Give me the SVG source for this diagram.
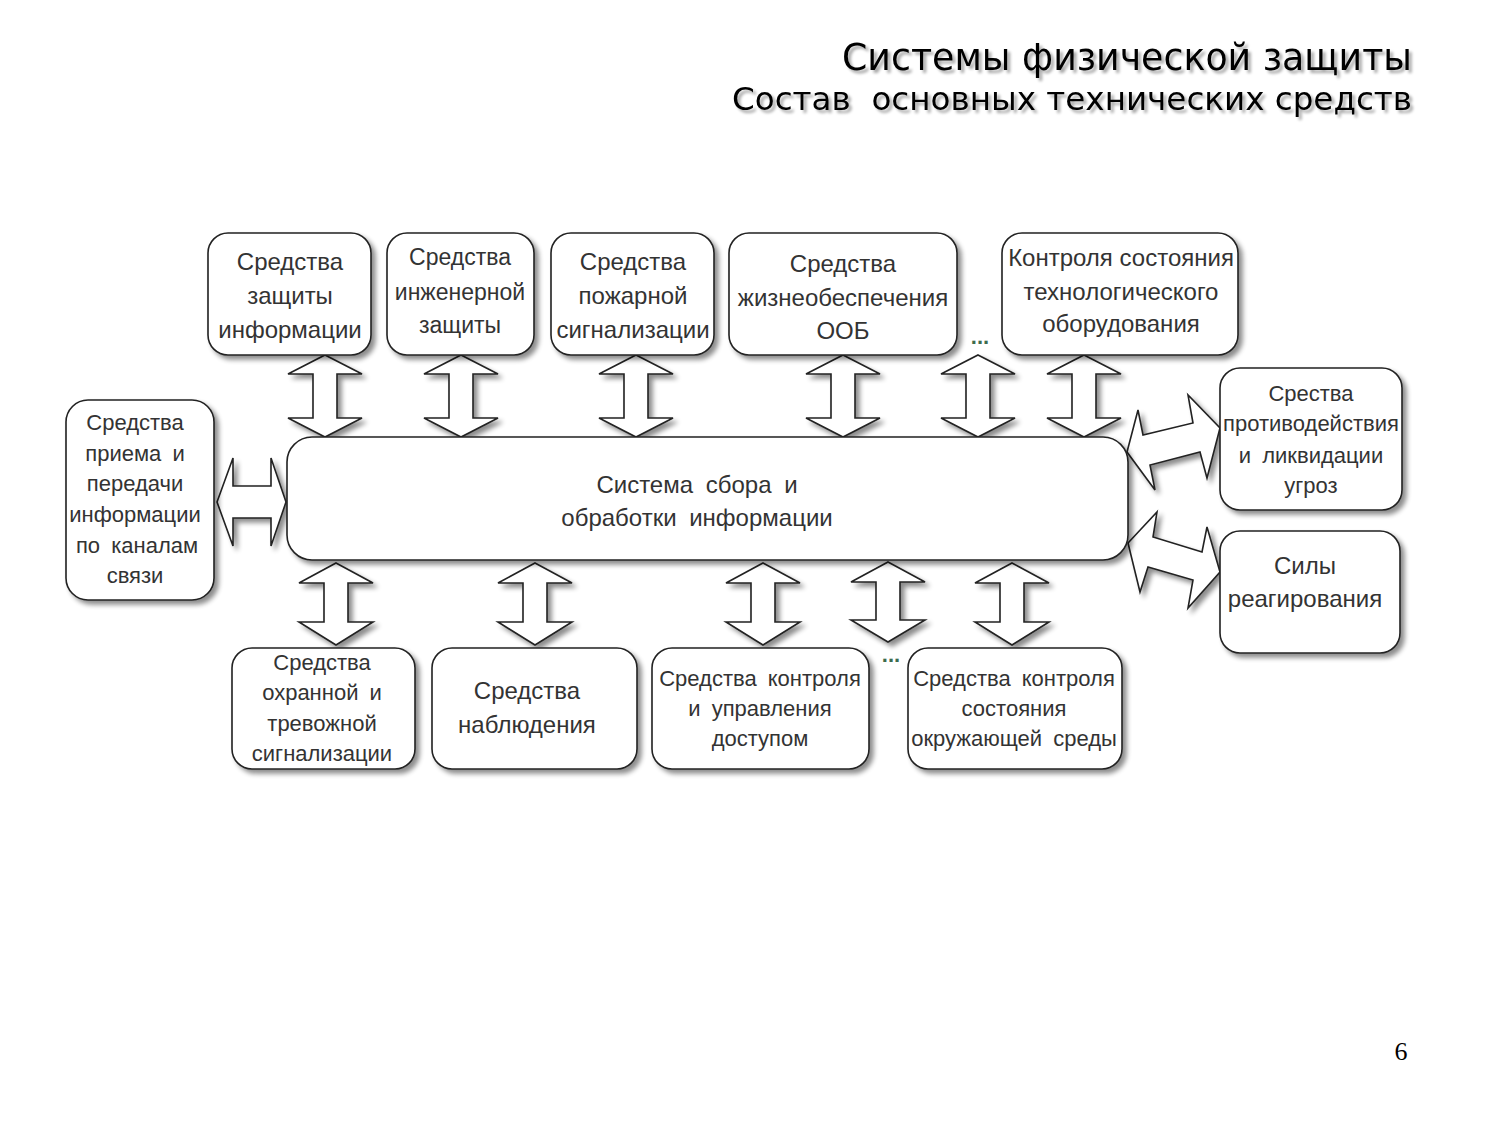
<svg xmlns="http://www.w3.org/2000/svg" width="1500" height="1125" viewBox="0 0 1500 1125">
<defs>
<filter id="sh" x="-10%" y="-10%" width="130%" height="130%">
<feGaussianBlur in="SourceAlpha" stdDeviation="2.5"/>
<feOffset dx="4" dy="4" result="b"/>
<feComponentTransfer><feFuncA type="linear" slope="0.45"/></feComponentTransfer>
<feMerge><feMergeNode/><feMergeNode in="SourceGraphic"/></feMerge>
</filter>
<filter id="tsh" x="-5%" y="-20%" width="110%" height="150%">
<feGaussianBlur in="SourceAlpha" stdDeviation="1.5"/>
<feOffset dx="3" dy="3"/>
<feComponentTransfer><feFuncA type="linear" slope="0.35"/></feComponentTransfer>
<feMerge><feMergeNode/><feMergeNode in="SourceGraphic"/></feMerge>
</filter>
</defs>
<style>
.box{fill:#fff;stroke:#222;stroke-width:1.6;filter:url(#sh)}
.arr{fill:#fff;stroke:#222;stroke-width:1.6;filter:url(#sh)}
.t{font-family:"Liberation Sans",Arial,sans-serif;font-size:22px;fill:#333;text-anchor:middle}
.L{font-size:24px}
.M{font-size:23px}
.w{word-spacing:5px}
.dots{font-family:"Liberation Sans",Arial,sans-serif;font-size:22px;font-weight:bold;fill:#3d6b4e;text-anchor:middle}
.title{font-family:"DejaVu Sans",Verdana,sans-serif;fill:#000;text-anchor:end;filter:url(#tsh)}
</style>
<rect width="1500" height="1125" fill="#fff"/>

<g class="title">
<text x="1412" y="70" font-size="37" textLength="570" lengthAdjust="spacingAndGlyphs">Системы физической защиты</text>
<text x="1412" y="110" font-size="32" textLength="680" lengthAdjust="spacingAndGlyphs" xml:space="preserve">Состав  основных технических средств</text>
</g>

<g id="connectors">
<path class="arr" d="M325,355 L362,374 L337,374 L337,418 L362,418 L325,437 L288,418 L313,418 L313,374 L288,374 Z"/>
<path class="arr" d="M461,355 L498,374 L473,374 L473,418 L498,418 L461,437 L424,418 L449,418 L449,374 L424,374 Z"/>
<path class="arr" d="M636,355 L673,374 L648,374 L648,418 L673,418 L636,437 L599,418 L624,418 L624,374 L599,374 Z"/>
<path class="arr" d="M843,355 L880,374 L855,374 L855,418 L880,418 L843,437 L806,418 L831,418 L831,374 L806,374 Z"/>
<path class="arr" d="M978,355 L1015,374 L990,374 L990,418 L1015,418 L978,437 L941,418 L966,418 L966,374 L941,374 Z"/>
<path class="arr" d="M1084,355 L1121,374 L1096,374 L1096,418 L1121,418 L1084,437 L1047,418 L1072,418 L1072,374 L1047,374 Z"/>

<path class="arr" d="M336,563 L373,583 L348,583 L348,622 L373,622 L336,645 L299,622 L324,622 L324,583 L299,583 Z"/>
<path class="arr" d="M535,563 L572,583 L547,583 L547,622 L572,622 L535,645 L498,622 L523,622 L523,583 L498,583 Z"/>
<path class="arr" d="M763,563 L800,583 L775,583 L775,622 L800,622 L763,645 L726,622 L751,622 L751,583 L726,583 Z"/>
<path class="arr" d="M888,562 L925,582 L900,582 L900,620 L925,620 L888,642 L851,620 L876,620 L876,582 L851,582 Z"/>
<path class="arr" d="M1012,563 L1049,583 L1024,583 L1024,622 L1049,622 L1012,645 L975,622 L1000,622 L1000,583 L975,583 Z"/>

<path class="arr" d="M217,502 L233,458 L233,486 L271,486 L271,458 L286,502 L271,546 L271,518 L233,518 L233,546 Z"/>

<path class="arr" d="M1127,452 L1138,410 L1143,435 L1193,423 L1188,395 L1220,428 L1207,478 L1200,452 L1150,465 L1155,490 Z"/>
<path class="arr" d="M1128,543 L1157,512 L1153,537 L1202,552 L1207,527 L1220,572 L1188,608 L1193,580 L1148,567 L1140,592 Z"/>
</g>

<g id="central">
<rect class="box" x="287" y="437" width="841" height="123" rx="25"/>
<text class="t L" x="697" y="493" style="word-spacing:6px">Система сбора и</text>
<text class="t L" x="697" y="526" style="word-spacing:6px">обработки информации</text>
</g>

<g id="n-zashchity-info">
<rect class="box" x="208" y="233" width="163" height="122" rx="20"/>
<text class="t L" x="290" y="270">Средства</text>
<text class="t L" x="290" y="304">защиты</text>
<text class="t L" x="290" y="338">информации</text>
</g>

<g id="n-inzhenernoy">
<rect class="box" x="387" y="233" width="147" height="122" rx="20"/>
<text class="t M" x="460" y="265">Средства</text>
<text class="t M" x="460" y="300">инженерной</text>
<text class="t M" x="460" y="333">защиты</text>
</g>

<g id="n-pozharnoy">
<rect class="box" x="551" y="233" width="163" height="122" rx="20"/>
<text class="t L" x="633" y="270">Средства</text>
<text class="t L" x="633" y="304">пожарной</text>
<text class="t L" x="633" y="338">сигнализации</text>
</g>

<g id="n-zhizneobespecheniya">
<rect class="box" x="729" y="233" width="228" height="122" rx="20"/>
<text class="t L" x="843" y="272">Средства</text>
<text class="t L" x="843" y="306">жизнеобеспечения</text>
<text class="t L" x="843" y="339">ООБ</text>
</g>

<text class="dots" x="980" y="344">...</text>

<g id="n-tekhnologicheskogo">
<rect class="box" x="1002" y="233" width="236" height="122" rx="20"/>
<text class="t L" x="1121" y="266">Контроля состояния</text>
<text class="t L" x="1121" y="300">технологического</text>
<text class="t L" x="1121" y="332">оборудования</text>
</g>

<g id="n-priema">
<rect class="box" x="66" y="400" width="148" height="200" rx="22"/>
<text class="t w" x="135" y="430">Средства</text>
<text class="t w" x="135" y="461">приема и</text>
<text class="t w" x="135" y="491">передачи</text>
<text class="t w" x="135" y="522">информации</text>
<text class="t w" x="137" y="553">по каналам</text>
<text class="t w" x="135" y="583">связи</text>
</g>

<g id="n-protivodeystviya">
<rect class="box" x="1220" y="368" width="182" height="142" rx="20"/>
<text class="t w" x="1311" y="401">Срества</text>
<text class="t w" x="1311" y="431">противодействия</text>
<text class="t w" x="1311" y="463">и ликвидации</text>
<text class="t w" x="1311" y="493">угроз</text>
</g>

<g id="n-sily">
<rect class="box" x="1220" y="531" width="180" height="122" rx="20"/>
<text class="t L" x="1305" y="574">Силы</text>
<text class="t L" x="1305" y="607">реагирования</text>
</g>

<g id="n-okhrannoy">
<rect class="box" x="232" y="648" width="183" height="121" rx="20"/>
<text class="t w" x="322" y="670">Средства</text>
<text class="t w" x="322" y="700">охранной и</text>
<text class="t w" x="322" y="731">тревожной</text>
<text class="t w" x="322" y="761">сигнализации</text>
</g>

<g id="n-nablyudeniya">
<rect class="box" x="432" y="648" width="205" height="121" rx="20"/>
<text class="t L" x="527" y="699">Средства</text>
<text class="t L" x="527" y="733">наблюдения</text>
</g>

<g id="n-dostupom">
<rect class="box" x="652" y="648" width="217" height="121" rx="20"/>
<text class="t w" x="760" y="686">Средства контроля</text>
<text class="t w" x="760" y="716">и управления</text>
<text class="t w" x="760" y="746">доступом</text>
</g>

<text class="dots" x="891" y="662">...</text>

<g id="n-sredy">
<rect class="box" x="908" y="648" width="214" height="121" rx="20"/>
<text class="t w" x="1014" y="686">Средства контроля</text>
<text class="t w" x="1014" y="716">состояния</text>
<text class="t w" x="1014" y="746">окружающей среды</text>
</g>

<text x="1401" y="1060" font-family="Liberation Serif,'Times New Roman',serif" font-size="26" fill="#000" text-anchor="middle">6</text>
</svg>
